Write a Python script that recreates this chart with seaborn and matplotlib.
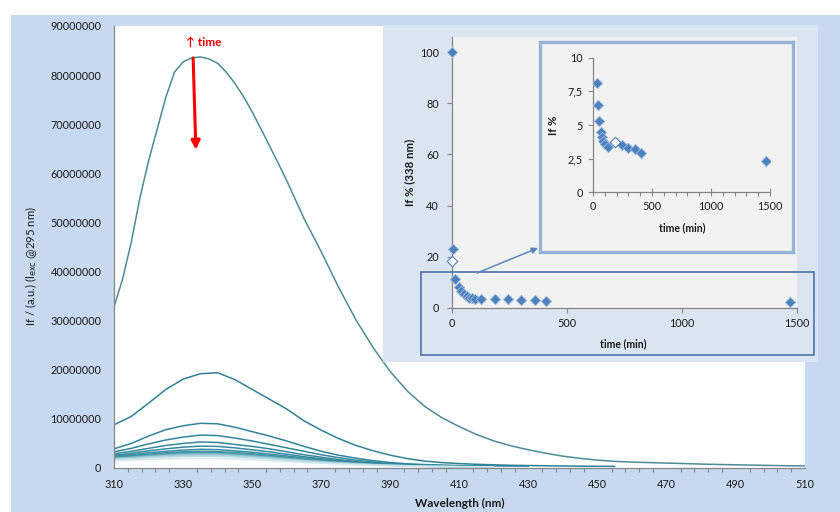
import numpy as np
import pandas as pd
import matplotlib
matplotlib.use("Agg")
import matplotlib.pyplot as plt
import seaborn as sns
from matplotlib.patches import Rectangle, FancyArrowPatch

# ---------------- data ----------------
# emission spectra (intensity in millions of a.u.), one list per acquisition
wl_first = [310, 312.5, 315, 317.5, 320, 322.5, 325, 327.5, 330, 332.5, 335, 337.5, 340,
            342.5, 345, 347.5, 350, 352.5, 355, 357.5, 360] + list(range(365, 511, 5))
spec_01 = [32.8, 38.5, 46.0, 55.0, 62.5, 69.0, 75.5, 80.6, 82.7, 83.5, 83.7, 83.3, 82.4,
           80.6, 78.3, 75.6, 72.5, 69.1, 65.6, 62.1, 58.5,
           50.8, 44.0, 36.8, 30.2, 24.5, 19.6, 15.6, 12.5, 10.2,
           8.4, 6.8, 5.5, 4.5, 3.7, 3.0, 2.4, 1.95, 1.6, 1.35,
           1.2, 1.1, 1.0, 0.9, 0.8, 0.72, 0.65, 0.58, 0.52, 0.46, 0.42]
wl_mid = list(range(310, 456, 5))
spec_02 = [8.8, 10.5, 13.2, 16.0, 18.1, 19.2, 19.4, 18.0, 16.0, 14.0,
           12.0, 9.6, 7.7, 6.0, 4.6, 3.5, 2.6, 1.9, 1.4, 1.1,
           0.9, 0.75, 0.65, 0.55, 0.5, 0.45, 0.4, 0.38, 0.35, 0.33]
wl_short3 = list(range(310, 431, 5))
spec_03 = [3.9, 5.0, 6.5, 7.8, 8.6, 9.1, 9.0, 8.3, 7.4, 6.5,
           5.5, 4.4, 3.4, 2.6, 2.0, 1.5, 1.1, 0.85, 0.7, 0.6,
           0.5, 0.45, 0.42, 0.4, 0.38]
wl_short = list(range(310, 421, 5))
spec_04 = [3.3, 4.0, 4.9, 5.7, 6.3, 6.7, 6.6, 6.1, 5.5, 4.8, 4.1, 3.4, 2.7, 2.1, 1.6, 1.2, 0.9, 0.7, 0.55, 0.45, 0.4, 0.35, 0.3]
spec_05 = [2.9, 3.4, 4.0, 4.6, 5.0, 5.3, 5.2, 4.8, 4.4, 3.9, 3.3, 2.7, 2.2, 1.7, 1.3, 1.0, 0.75, 0.6, 0.48, 0.4, 0.35, 0.3, 0.28]
spec_06 = [2.6, 3.0, 3.5, 3.9, 4.25, 4.45, 4.4, 4.1, 3.7, 3.3, 2.8, 2.3, 1.9, 1.5, 1.15, 0.9, 0.7, 0.55, 0.45, 0.38, 0.33, 0.3, 0.27]
spec_07 = [2.4, 2.7, 3.1, 3.4, 3.65, 3.8, 3.75, 3.5, 3.2, 2.85, 2.45, 2.05, 1.7, 1.35, 1.05, 0.82, 0.65, 0.52, 0.43, 0.36, 0.32, 0.29, 0.26]
spec_08 = [2.2, 2.5, 2.8, 3.1, 3.3, 3.4, 3.35, 3.15, 2.9, 2.55, 2.2, 1.85, 1.55, 1.25, 0.98, 0.78, 0.62, 0.5, 0.41, 0.35, 0.31, 0.28, 0.25]
spec_09 = [2.1, 2.35, 2.65, 2.9, 3.1, 3.2, 3.15, 2.95, 2.7, 2.4, 2.05, 1.75, 1.45, 1.18, 0.93, 0.74, 0.6, 0.48, 0.4, 0.34, 0.3, 0.27, 0.25]
spec_10 = [2.0, 2.25, 2.5, 2.75, 2.92, 3.0, 2.96, 2.78, 2.55, 2.27, 1.95, 1.66, 1.38, 1.12, 0.9, 0.72, 0.58, 0.47, 0.39, 0.33, 0.29, 0.26, 0.24]
spec_11 = [1.95, 2.15, 2.4, 2.62, 2.78, 2.85, 2.82, 2.65, 2.43, 2.16, 1.86, 1.58, 1.32, 1.08, 0.87, 0.7, 0.56, 0.46, 0.38, 0.32, 0.28, 0.26, 0.24]
spec_12 = [1.9, 2.1, 2.33, 2.54, 2.69, 2.75, 2.72, 2.56, 2.35, 2.09, 1.8, 1.53, 1.28, 1.05, 0.85, 0.68, 0.55, 0.45, 0.37, 0.31, 0.27, 0.25, 0.23]
spec_13 = [1.85, 2.03, 2.24, 2.43, 2.55, 2.6, 2.57, 2.42, 2.22, 1.98, 1.71, 1.46, 1.22, 1.0, 0.81, 0.65, 0.53, 0.43, 0.36, 0.3, 0.27, 0.24, 0.22]
spec_14 = [1.75, 1.92, 2.1, 2.26, 2.36, 2.4, 2.37, 2.24, 2.06, 1.84, 1.6, 1.36, 1.14, 0.94, 0.77, 0.62, 0.5, 0.41, 0.34, 0.29, 0.26, 0.23, 0.21]
spec_15 = [1.5, 1.62, 1.76, 1.87, 1.93, 1.95, 1.93, 1.83, 1.69, 1.52, 1.33, 1.14, 0.96, 0.8, 0.66, 0.54, 0.44, 0.37, 0.31, 0.27, 0.24, 0.22, 0.2]

# relative intensity at 338 nm vs. time
time_min = [0, 0, 5, 15, 30, 40, 50, 65, 75, 85, 100, 125, 185, 245, 300, 360, 410, 1470]
if_pct = [100, 18.5, 23, 11.3, 8.1, 6.5, 5.3, 4.5, 4.1, 3.8, 3.6, 3.4, 3.7, 3.5, 3.3, 3.2, 2.9, 2.3]
# points drawn hollow in the full-range panel and in the detail panel
open_full = [False, True, False, False, False, False, False, False, False, False,
             False, False, False, False, False, False, False, False]
open_detail = [False, True, False, False, False, False, False, False, False, False,
               False, False, True, False, False, False, False, False]

x_ticks = [310, 330, 350, 370, 390, 410, 430, 450, 470, 490, 510]
y_ticks = [0, 10e6, 20e6, 30e6, 40e6, 50e6, 60e6, 70e6, 80e6, 90e6]
y_tick_labels = ["0", "10000000", "20000000", "30000000", "40000000",
                 "50000000", "60000000", "70000000", "80000000", "90000000"]
ins_y_ticks = [0, 20, 40, 60, 80, 100]
ins_x_ticks = [0, 500, 1000, 1500]
zoom_y_ticks = [0, 2.5, 5, 7.5, 10]
zoom_y_labels = ["0", "2,5", "5", "7,5", "10"]

# ---------------- frames ----------------
series = [(wl_first, spec_01), (wl_mid, spec_02), (wl_short3, spec_03)] + \
         [(wl_short, s) for s in (spec_04, spec_05, spec_06, spec_07, spec_08, spec_09,
                                  spec_10, spec_11, spec_12, spec_13, spec_14, spec_15)]
rows = []
for k, (wl, vals) in enumerate(series):
    for w, v in zip(wl, vals):
        rows.append({"wavelength": w, "intensity": v * 1e6, "spectrum": f"s{k+1:02d}"})
spec_df = pd.DataFrame(rows)
order = [f"s{k+1:02d}" for k in range(len(series))]

kin_df = pd.DataFrame({"time": time_min, "if_pct": if_pct,
                       "open_full": open_full, "open_detail": open_detail})

# ---------------- styling ----------------
sns.set_theme(style="white")
plt.rcParams["font.family"] = ["Lato", "DejaVu Sans"]
plt.rcParams["mathtext.fontset"] = "dejavusans"

W, H = 840, 512
def fx(x):
    return x / W
def fy(y):
    return 1 - y / H

TXT = "#1a1a1a"
SPINE = "#868686"
MARK = "#4f81bd"

fig = plt.figure(figsize=(8.4, 5.12), dpi=100, facecolor="white")
fig.add_artist(Rectangle((fx(11), 0), 1 - fx(11), fy(15), transform=fig.transFigure,
                         facecolor="#c6d9f0", edgecolor="none", zorder=-10))

# ---------------- main spectra ----------------
ax = fig.add_axes([fx(114), fy(468), (805 - 114) / W, (468 - 26) / H])
ax.set_facecolor("white")
palette = ["#4b8b98"] + sns.blend_palette(["#2e8197", "#3a90a4", "#cfe7ee"], n_colors=len(series) - 1)
sns.lineplot(data=spec_df, x="wavelength", y="intensity", hue="spectrum", hue_order=order,
             palette=palette, legend=False, estimator=None, sort=False, lw=1.1, ax=ax)
ax.set_xlim(310, 510)
ax.set_ylim(0, 90e6)
ax.set_xticks(x_ticks)
ax.set_xticks(np.arange(310, 511, 4), minor=True)
ax.set_yticks(y_ticks)
ax.set_yticklabels(y_tick_labels)
ax.tick_params(axis="x", which="major", direction="inout", length=6, width=0.8,
               color=SPINE, labelsize=7.8, labelcolor=TXT, pad=5)
ax.tick_params(axis="x", which="minor", direction="out", length=3, width=0.8, color=SPINE, bottom=True)
ax.tick_params(axis="y", length=0, labelsize=7.8, labelcolor=TXT, pad=9)
for s in ("top", "right"):
    ax.spines[s].set_visible(False)
for s in ("left", "bottom"):
    ax.spines[s].set_color(SPINE)
    ax.spines[s].set_linewidth(0.9)
ax.set_xlabel("Wavelength (nm)", fontsize=8.5, fontweight="bold", color=TXT)
ax.xaxis.set_label_coords(0.5, -0.068)
ax.set_ylabel(r"If / (a.u.) (l$_{\rm exc}$ @295 nm)", fontsize=8.2, color=TXT)
ax.yaxis.set_label_coords(-0.108, 0.457)

ax.annotate("", xy=(333.7, 64.8e6), xytext=(332.9, 83.5e6),
            arrowprops=dict(arrowstyle="-|>", color="#ff0000", lw=2.2, mutation_scale=13,
                            shrinkA=0, shrinkB=0))
ax.text(336.0, 86.7e6, "\u2191 time", color="#ff0000", fontsize=8.6, fontweight="bold",
        ha="center", va="center")

# ---------------- inset: kinetics ----------------
panel = fig.add_axes([fx(383), fy(362), (818 - 383) / W, (362 - 25) / H])
panel.set_facecolor("#dbe5f1")
panel.set_xticks([])
panel.set_yticks([])
for s in panel.spines.values():
    s.set_visible(False)

ins = fig.add_axes([fx(452), fy(308), (797 - 452) / W, (308 - 37) / H])
ins.set_facecolor("#f2f2f2")
sns.scatterplot(data=kin_df[~kin_df["open_full"]], x="time", y="if_pct", marker="D", s=28,
                color=MARK, edgecolor="#9dbbe0", linewidth=0.6, ax=ins, clip_on=False, zorder=3)
sns.scatterplot(data=kin_df[kin_df["open_full"]], x="time", y="if_pct", marker="D", s=28,
                facecolor="white", edgecolor=MARK, linewidth=0.8, ax=ins, clip_on=False, zorder=3)
ins.set_xlim(0, 1500)
ins.set_ylim(0, 105.9)
ins.set_xticks(ins_x_ticks)
ins.set_yticks(ins_y_ticks)
ins.tick_params(direction="out", length=3.5, width=0.8, color=SPINE, labelsize=7.8,
                labelcolor=TXT, bottom=True, left=True)
ins.tick_params(axis="y", pad=6)
ins.tick_params(axis="x", pad=4)
for s in ("top", "right"):
    ins.spines[s].set_visible(False)
for s in ("left", "bottom"):
    ins.spines[s].set_color(SPINE)
    ins.spines[s].set_linewidth(0.9)
ins.set_xlabel("time (min)", fontsize=7.6, fontweight="bold", color=TXT)
ins.xaxis.set_label_coords(0.496, -0.112)
ins.set_ylabel("If % (338 nm)", fontsize=8.2, fontweight="bold", color=TXT)
ins.yaxis.set_label_coords(-0.108, 0.502)

fig.add_artist(Rectangle((fx(421), fy(355)), (814 - 421) / W, (355 - 272) / H,
                         transform=fig.transFigure, facecolor="none",
                         edgecolor="#4a72a8", lw=1.2, zorder=5))
fig.add_artist(FancyArrowPatch((fx(477), fy(273)), (fx(538), fy(248)), transform=fig.transFigure,
                               arrowstyle="-|>", mutation_scale=9, color="#5a86bf", lw=1.1,
                               shrinkA=0, shrinkB=0, zorder=5))

# ---------------- inset: detail of the low range ----------------
box = fig.add_axes([fx(540), fy(252), (793 - 540) / W, (252 - 42) / H])
box.set_facecolor("#f2f2f2")
box.set_xticks([])
box.set_yticks([])
for s in box.spines.values():
    s.set_color("#95b3d7")
    s.set_linewidth(2.4)

zin = fig.add_axes([fx(593), fy(192.3), (770 - 593) / W, (192.3 - 57.7) / H])
zin.set_facecolor("none")
sns.scatterplot(data=kin_df[~kin_df["open_detail"]], x="time", y="if_pct", marker="D", s=28,
                color=MARK, edgecolor="#9dbbe0", linewidth=0.6, ax=zin, zorder=3)
sns.scatterplot(data=kin_df[kin_df["open_detail"]], x="time", y="if_pct", marker="D", s=28,
                facecolor="white", edgecolor=MARK, linewidth=0.8, ax=zin, zorder=3)
zin.set_xlim(0, 1500)
zin.set_ylim(0, 10)
zin.set_xticks(ins_x_ticks)
zin.set_xticks(np.arange(0, 1501, 100), minor=True)
zin.set_yticks(zoom_y_ticks)
zin.set_yticklabels(zoom_y_labels)
zin.tick_params(axis="x", which="major", direction="inout", length=6, width=0.8, color=SPINE,
                labelsize=7.8, labelcolor=TXT, pad=3, bottom=True)
zin.tick_params(axis="x", which="minor", direction="out", length=3, width=0.8, color=SPINE, bottom=True)
zin.tick_params(axis="y", direction="out", length=3.5, width=0.8, color=SPINE,
                labelsize=7.8, labelcolor=TXT, pad=4, left=True)
for s in ("top", "right"):
    zin.spines[s].set_visible(False)
for s in ("left", "bottom"):
    zin.spines[s].set_color(SPINE)
    zin.spines[s].set_linewidth(0.9)
zin.set_xlabel("time (min)", fontsize=7.6, fontweight="bold", color=TXT)
zin.xaxis.set_label_coords(0.503, -0.225)
zin.set_ylabel("If %", fontsize=8.2, fontweight="bold", color=TXT)
zin.yaxis.set_label_coords(-0.19, 0.5)

fig.savefig("out.png", dpi=100, facecolor="white")
